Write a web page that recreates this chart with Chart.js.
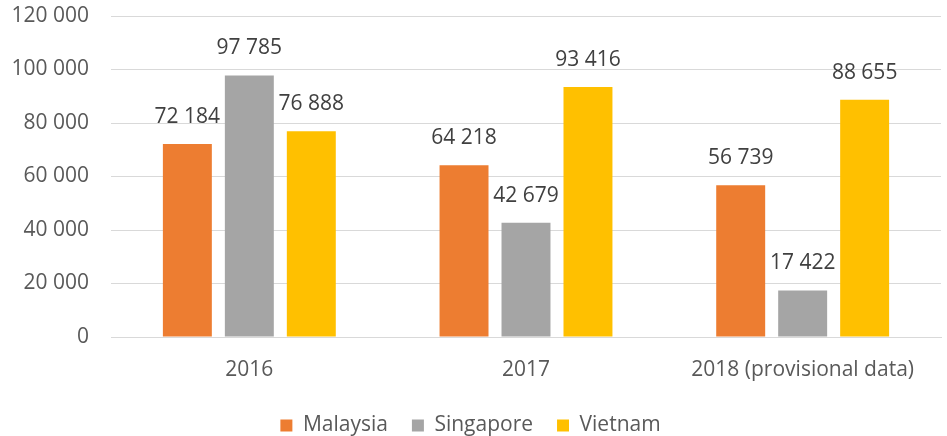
<!DOCTYPE html>
<html>
<head>
<meta charset="utf-8">
<script src="https://cdn.jsdelivr.net/npm/chart.js@4/dist/chart.umd.min.js"></script>
<style>
  html, body { margin: 0; padding: 0; background: #fff; }
  #wrap { width: 947px; height: 436px; position: relative; }
</style>
</head>
<body>
<div id="wrap"><canvas id="canvas"></canvas></div>
<script>
// data
var years = ["2016", "2017", "2018 (provisional data)"];
var malaysia = [72184, 64218, 56739];
var singapore = [97785, 42679, 17422];
var vietnam = [76888, 93416, 88655];
var yTicks = [0, 20000, 40000, 60000, 80000, 100000, 120000];

let orange = "#ED7D31";
let grey = "#A5A5A5";
let yellow = "#FFC000";
let textCol = "#595959";
let fontName = "'Open Sans', sans-serif";

function spaced(v) {
  return String(v).replace(/\B(?=(\d{3})+(?!\d))/g, " ");
}

// value labels above bars
const barLabels = {
  id: "barLabels",
  afterDatasetsDraw(chart) {
    const c = chart.ctx;
    c.save();
    c.font = "21px " + fontName;
    c.fillStyle = "#404040";
    c.textAlign = "center";
    c.textBaseline = "middle";
    chart.data.datasets.forEach((ds, i) => {
      chart.getDatasetMeta(i).data.forEach((bar, j) => {
        c.fillText(spaced(ds.data[j]), bar.x, bar.y - 27);
      });
    });
    c.restore();
  },
};

const ctx = document.getElementById("canvas").getContext("2d");
const myChart = new Chart(ctx, {
  type: "bar",
  data: {
    labels: years,
    datasets: [
      { label: "Malaysia", data: malaysia, backgroundColor: orange },
      { label: "Singapore", data: singapore, backgroundColor: grey },
      { label: "Vietnam", data: vietnam, backgroundColor: yellow },
    ],
  },
  options: {
    responsive: true,
    maintainAspectRatio: false,
    animation: false,
    categoryPercentage: 0.672,
    barPercentage: 0.79,
    layout: { padding: { top: 16, right: 6, left: 0, bottom: -10 } },
    plugins: {
      tooltip: { enabled: false },
      legend: {
        position: "bottom",
        labels: {
          font: { family: fontName, size: 21 },
          color: textCol,
          boxWidth: 12,
          boxHeight: 12,
          padding: 24,
        },
      },
    },
    scales: {
      x: {
        grid: { display: false, drawTicks: false },
        border: { color: "#d9d9d9" },
        ticks: {
          font: { family: fontName, size: 21 },
          color: textCol,
          padding: 20,
        },
        afterFit(s) { s.height = 54; s.paddingLeft = 0; s.paddingRight = 0; },
      },
      y: {
        min: 0,
        max: 120000,
        afterBuildTicks(s) { s.ticks = yTicks.map(v => ({ value: v })); },
        grid: { color: "#d9d9d9", drawTicks: false },
        border: { display: false },
        ticks: {
          font: { family: fontName, size: 21 },
          color: textCol,
          padding: 22,
          callback: v => spaced(v),
        },
        afterFit(s) { s.width = 111; s.paddingTop = 0; s.paddingBottom = 0; },
      },
    },
  },
  plugins: [barLabels],
});
</script>
</body>
</html>
